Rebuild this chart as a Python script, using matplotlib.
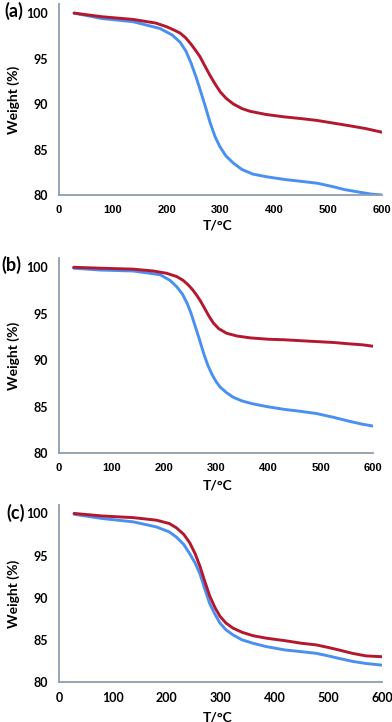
import matplotlib
matplotlib.use("Agg")
import matplotlib.pyplot as plt

# ---- data ----
T_a_red = [28, 80, 138, 180, 200, 215, 225, 235, 245, 255, 262, 270, 280, 290, 300, 311, 324, 340, 355, 385, 417, 450, 479, 510, 541, 570, 600]
W_a_red = [100, 99.6, 99.3, 98.9, 98.5, 98.1, 97.8, 97.3, 96.6, 95.8, 95.2, 94.3, 93.2, 92.2, 91.3, 90.6, 90.0, 89.5, 89.2, 88.85, 88.6, 88.4, 88.2, 87.9, 87.6, 87.3, 86.9]
T_a_blue = [28, 80, 138, 188, 210, 225, 236, 246, 255, 262, 272, 281, 290, 299, 310, 324, 340, 360, 386, 420, 450, 479, 495, 510, 530, 559, 580, 600]
W_a_blue = [100, 99.4, 99.05, 98.3, 97.6, 96.8, 95.8, 94.4, 92.9, 91.6, 89.7, 87.9, 86.4, 85.3, 84.3, 83.5, 82.8, 82.3, 82.0, 81.7, 81.5, 81.3, 81.1, 80.9, 80.6, 80.3, 80.1, 80.0]

T_b_red = [28, 80, 142, 180, 206, 225, 237, 247, 255, 263, 270, 278, 287, 295, 305, 320, 340, 365, 400, 428, 460, 492, 525, 556, 580, 600]
W_b_red = [100, 99.9, 99.8, 99.6, 99.35, 99.0, 98.6, 98.1, 97.6, 97.0, 96.4, 95.6, 94.7, 94.0, 93.4, 92.9, 92.6, 92.4, 92.25, 92.2, 92.1, 92.0, 91.9, 91.75, 91.65, 91.5]
T_b_blue = [28, 80, 142, 193, 212, 225, 236, 245, 252, 260, 268, 276, 284, 292, 300, 308, 320, 333, 350, 370, 397, 430, 460, 492, 524, 556, 580, 600]
W_b_blue = [99.9, 99.7, 99.6, 99.2, 98.6, 97.9, 97.1, 96.1, 95.1, 93.7, 92.3, 90.8, 89.5, 88.5, 87.7, 87.1, 86.5, 86.0, 85.6, 85.3, 85.0, 84.7, 84.5, 84.25, 83.85, 83.4, 83.1, 82.9]

T_c_red = [28, 80, 138, 181, 205, 218, 232, 243, 253, 262, 271, 280, 290, 299, 310, 323, 340, 360, 385, 420, 450, 478, 500, 520, 545, 570, 600]
W_c_red = [100, 99.7, 99.5, 99.2, 98.8, 98.3, 97.5, 96.5, 95.2, 93.7, 91.9, 90.2, 88.8, 87.8, 87.0, 86.4, 85.9, 85.5, 85.2, 84.9, 84.6, 84.4, 84.1, 83.8, 83.4, 83.1, 83.0]
T_c_blue = [28, 80, 138, 181, 205, 218, 232, 243, 253, 262, 271, 280, 290, 299, 310, 323, 340, 360, 385, 420, 450, 478, 500, 520, 545, 570, 600]
W_c_blue = [99.9, 99.4, 99.0, 98.4, 97.8, 97.2, 96.3, 95.2, 94.1, 92.8, 91.0, 89.3, 88.0, 87.0, 86.2, 85.6, 85.0, 84.6, 84.2, 83.8, 83.6, 83.4, 83.1, 82.8, 82.45, 82.2, 82.0]

x_ticks = [0, 100, 200, 300, 400, 500, 600]
y_ticks = [80, 85, 90, 95, 100]
panel_labels = ["(a)", "(b)", "(c)"]
x_label = "T/°C"
y_label = "Weight (%)"

RED = "#B3182F"
BLUE = "#4A90F0"
SPINE = "#8E9DAF"

W, H = 392, 722
fig = plt.figure(figsize=(W / 100, H / 100), dpi=100)

def frac(left_px, right_px, top_px, bottom_px):
    return [left_px / W, 1 - bottom_px / H, (right_px - left_px) / W, (bottom_px - top_px) / H]

panels = [
    dict(rect=frac(59, 382, 4, 195), tr=T_a_red, wr=W_a_red, tb=T_a_blue, wb=W_a_blue,
         xfont="Liberation Sans", xfs=8, lab_xy=(4, 11), xlab_y=225),
    dict(rect=frac(59, 373, 258, 453), tr=T_b_red, wr=W_b_red, tb=T_b_blue, wb=W_b_blue,
         xfont="Liberation Sans", xfs=8, lab_xy=(1, 265), xlab_y=485),
    dict(rect=frac(59, 382, 505, 682), tr=T_c_red, wr=W_c_red, tb=T_c_blue, wb=W_c_blue,
         xfont="Lato", xfs=9, lab_xy=(6, 513), xlab_y=717),
]

for p, lab in zip(panels, panel_labels):
    ax = fig.add_axes(p["rect"])
    ax.plot(p["tb"], p["wb"], color=BLUE, lw=2.1, solid_capstyle="round", solid_joinstyle="round")
    ax.plot(p["tr"], p["wr"], color=RED, lw=2.1, solid_capstyle="round", solid_joinstyle="round")
    ax.set_xlim(0, 600)
    ax.set_ylim(80, 101)
    ax.set_xticks(x_ticks)
    ax.set_yticks(y_ticks)
    ax.set_xticklabels([str(v) for v in x_ticks], fontfamily=p["xfont"], fontweight="bold", fontsize=p["xfs"])
    ax.set_yticklabels([str(v) for v in y_ticks], fontfamily="Lato", fontweight="bold", fontsize=9)
    ax.tick_params(axis="both", length=0)
    ax.tick_params(axis="y", pad=8)
    ax.tick_params(axis="x", pad=7)
    for s in ["top", "right"]:
        ax.spines[s].set_visible(False)
    for s in ["left", "bottom"]:
        ax.spines[s].set_color(SPINE)
        ax.spines[s].set_linewidth(1.3)
    ax.set_ylabel(y_label, fontfamily="Lato", fontweight="bold", fontsize=10)
    ax.yaxis.set_label_coords(-39 / (p["rect"][2] * W), 0.5)
    fig.text(218 / W, 1 - p["xlab_y"] / H, x_label, ha="center", va="center",
             fontfamily="Lato", fontweight="bold", fontsize=10)
    fig.text(p["lab_xy"][0] / W, 1 - p["lab_xy"][1] / H, lab, ha="left", va="center",
             fontfamily="Lato", fontweight="bold", fontsize=13)

fig.savefig("out.png", dpi=100)
